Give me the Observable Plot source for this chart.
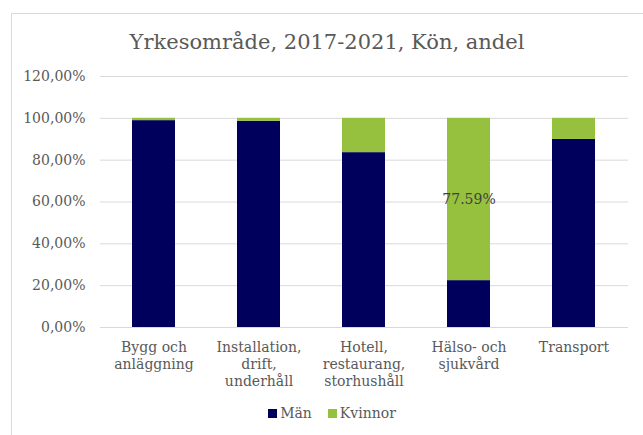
<!DOCTYPE html>
<html>
<head>
<meta charset="utf-8">
<script src="https://cdn.jsdelivr.net/npm/d3@7"></script>
<script src="https://cdn.jsdelivr.net/npm/@observablehq/plot@0.6"></script>
<style>
  html, body { margin: 0; padding: 0; background: #fff; }
  body { width: 643px; height: 435px; overflow: hidden; position: relative; font-family: 'DejaVu Serif', serif; color: #595959; }
  #frame { position: absolute; left: 11px; top: 13px; width: 700px; height: 500px; border: 1px solid #d9d9d9; box-sizing: border-box; }
  #title { position: absolute; left: 11px; width: 632px; top: 29px; text-align: center; font-family: 'DejaVu Serif', serif; font-size: 21px; line-height: 26px; color: #595959; }
  #chart { position: absolute; left: 0; top: 60px; }
  #legend { position: absolute; left: 16px; width: 632px; top: 403px; display: flex; justify-content: center; align-items: center; font-family: 'DejaVu Serif', serif; font-size: 14px; line-height: 20px; color: #595959; }
  .item { display: flex; align-items: center; margin: 0 8px; font-family: 'DejaVu Serif', serif; }
  .sw { width: 9px; height: 9px; margin-right: 3px; display: inline-block; }
</style>
</head>
<body>
<div id="frame"></div>
<div id="title">Yrkesområde, 2017-2021, Kön, andel</div>
<div id="chart"></div>
<div id="legend"></div>
<script>
const categories = ["Bygg och\nanläggning", "Installation,\ndrift,\nunderhåll", "Hotell,\nrestaurang,\nstorhushåll", "Hälso- och\nsjukvård", "Transport"];
const series = ["Män", "Kvinnor"];
const man = [98.9, 98.6, 83.6, 22.41, 89.9];
const kvinnor = [1.1, 1.4, 16.4, 77.59, 10.1];
const kvinnorLabels = ["", "", "", "77.59%", ""];
const yTicks = [0, 20, 40, 60, 80, 100, 120];
const colors = ["#00005c", "#96c13e"];

const rows = [];
categories.forEach((c, i) => {
  rows.push({cat: c, sex: "Män", value: man[i], label: ""});
  rows.push({cat: c, sex: "Kvinnor", value: kvinnor[i], label: kvinnorLabels[i]});
});

const fmt = d => d.toFixed(2).replace(".", ",") + "%";

const chart = Plot.plot({
  width: 643,
  height: 345,
  marginLeft: 100,
  marginRight: 15,
  marginTop: 16,
  marginBottom: 78,
  style: {fontFamily: "'DejaVu Serif', serif", fontSize: "14px", color: "#595959", background: "transparent"},
  x: {domain: categories, paddingInner: 0.59, paddingOuter: 0.295, axis: null},
  y: {domain: [0, 120], axis: null},
  color: {domain: series, range: colors},
  marks: [
    Plot.gridY(yTicks, {stroke: "#d9d9d9", strokeOpacity: 1, strokeWidth: 1}),
    Plot.axisY(yTicks, {tickSize: 0, tickPadding: 15, tickFormat: fmt, fill: "#595959", fontSize: 14, label: null}),
    Plot.barY(rows, Plot.stackY({x: "cat", y: "value", z: "sex", fill: "sex", order: null})),
    Plot.text(rows, Plot.stackY({x: "cat", y: "value", z: "sex", text: "label", order: null, fill: "#404040", fontSize: 14})),
    Plot.text(categories, {x: d => d, text: d => d, frameAnchor: "bottom", dy: 12, lineAnchor: "top", lineHeight: 1.22, fill: "#595959", fontSize: 14})
  ]
});
document.getElementById("chart").appendChild(chart);

const legend = document.getElementById("legend");
series.forEach((s, i) => {
  const it = document.createElement("span");
  it.className = "item";
  const sw = document.createElement("span");
  sw.className = "sw";
  sw.style.background = colors[i];
  it.appendChild(sw);
  it.appendChild(document.createTextNode(s));
  legend.appendChild(it);
});
</script>
</body>
</html>
